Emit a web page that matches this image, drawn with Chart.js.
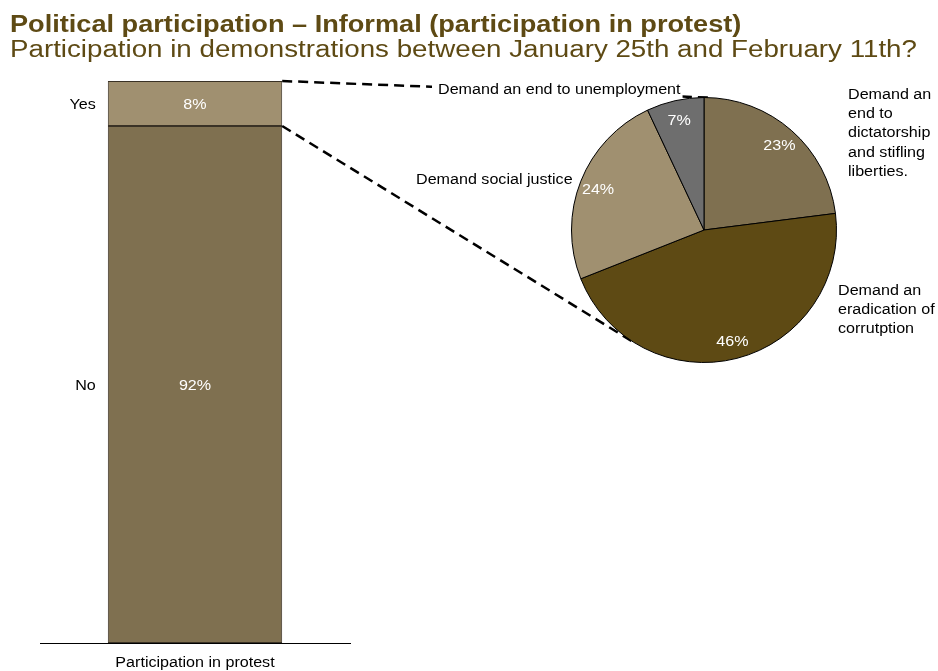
<!DOCTYPE html>
<html>
<head>
<meta charset="utf-8">
<script src="https://cdn.jsdelivr.net/npm/chart.js@4/dist/chart.umd.min.js"></script>
<style>
    body { margin: 0; background: #fff; font-family: "Liberation Sans", Arial, sans-serif; }
    #wrap { position: relative; width: 938px; height: 671px; overflow: hidden; }
    #wrap canvas { position: absolute; left: 0; top: 0; }
    .title { position: absolute; left: 10px; color: #5e4a14; white-space: nowrap; font-size: 23px; transform-origin: 0 0; }
    #title { top: 11px; font-weight: bold; transform: scaleX(1.18); }
    #subtitle { top: 36px; transform: scaleX(1.205); }
</style>
</head>
<body>
<div id="wrap">
    <canvas id="barChart" width="938" height="671"></canvas>
    <canvas id="pieChart" width="938" height="671"></canvas>
    <div class="title" id="title">Political participation – Informal (participation in protest)</div>
    <div class="title" id="subtitle">Participation in demonstrations between January 25th and February 11th?</div>
</div>
<script>
const barCategories = ["Participation in protest"];
const answerLabels = ["No", "Yes"];
const answerValues = [92, 8];

const reasonLabels = [
    "Demand an end to dictatorship and stifling liberties.",
    "Demand an eradication of corrutption",
    "Demand social justice",
    "Demand an end to unemployment"
];
const reasonValues = [23, 46, 24, 7];

const answerColors = ["#7f7050", "#a09070"];
const reasonColors = ["#7f7050", "#5e4a14", "#a09070", "#6e6e6e"];
const FONT = '"Liberation Sans", Arial, sans-serif';
const STRETCH = 1.15;

// wrapped lines and placement of the outside pie labels, relative to the pie centre
const reasonLabelLayout = [
    { lines: ["Demand an", "end to", "dictatorship", "and stifling", "liberties."], dx: 144, dy: -137 },
    { lines: ["Demand an", "eradication of", "corrutption"], dx: 134, dy: 59 },
    { lines: ["Demand social justice"], dx: -288, dy: -52 },
    { lines: ["Demand an end to unemployment"], dx: -266, dy: -142, knockout: true }
];

// text drawn slightly wide, like the rest of the slide
function wideText(ctx, text, x, y, align, color) {
    ctx.save();
    ctx.translate(x, y + 2);
    ctx.scale(STRETCH, 1);
    ctx.textAlign = align;
    ctx.fillStyle = color;
    ctx.fillText(text, 0, 0);
    ctx.restore();
}

// percentage text inside each stacked segment, Yes / No on the left, category underneath
const barLabels = {
    id: "barLabels",
    afterDatasetsDraw(chart) {
        const ctx = chart.ctx;
        ctx.save();
        ctx.font = "14px " + FONT;
        ctx.textBaseline = "middle";
        chart.data.datasets.forEach((ds, i) => {
            const bar = chart.getDatasetMeta(i).data[0];
            const midY = (bar.y + bar.base) / 2;
            wideText(ctx, ds.data[0] + "%", bar.x, midY, "center", "#ffffff");
            wideText(ctx, ds.label, bar.x - bar.width / 2 - 12, midY, "right", "#000");
        });
        const xs = chart.scales.x;
        chart.data.labels.forEach((label, i) => {
            wideText(ctx, label, xs.getPixelForTick(i), chart.chartArea.bottom + 18, "center", "#000");
        });
        ctx.restore();
    }
};

const barChart = new Chart(document.getElementById("barChart"), {
    type: "bar",
    data: {
        labels: barCategories,
        datasets: answerLabels.map((label, i) => ({
            label: label,
            data: [answerValues[i]],
            backgroundColor: answerColors[i],
            borderColor: "#3a3226",
            borderWidth: 1,
            borderSkipped: false,
            categoryPercentage: 0.75,
            barPercentage: 0.75
        }))
    },
    options: {
        responsive: false,
        animation: false,
        layout: { padding: { left: 40, right: 588, top: 81, bottom: 28 } },
        plugins: { legend: { display: false }, tooltip: { enabled: false } },
        scales: {
            x: {
                stacked: true,
                grid: { display: false, drawTicks: false },
                border: { display: true, color: "#000", width: 1 },
                ticks: { display: false }
            },
            y: { stacked: true, display: false, min: 0, max: 100 }
        }
    },
    plugins: [barLabels]
});

function tangentPoint(px, py, cx, cy, r, side) {
    const d = Math.hypot(px - cx, py - cy);
    const t = Math.atan2(py - cy, px - cx) + side * Math.acos(r / d);
    return { x: cx + r * Math.cos(t), y: cy + r * Math.sin(t) };
}

// dashed connectors from the Yes segment to the pie, drawn underneath the slices
const connectors = {
    id: "connectors",
    beforeDatasetsDraw(chart) {
        const arc = chart.getDatasetMeta(0).data[0];
        const yes = barChart.getDatasetMeta(1).data[0];
        const right = yes.x + yes.width / 2;
        const ends = [
            { x: right, y: yes.y, side: 1 },
            { x: right, y: yes.base, side: -1 }
        ];
        const ctx = chart.ctx;
        ctx.save();
        ctx.strokeStyle = "#000";
        ctx.lineWidth = 2.5;
        ctx.setLineDash([10, 6]);
        ends.forEach(e => {
            const t = tangentPoint(e.x, e.y, arc.x, arc.y, arc.outerRadius, e.side);
            ctx.beginPath();
            ctx.moveTo(e.x, e.y);
            ctx.lineTo(t.x, t.y);
            ctx.stroke();
        });
        ctx.restore();
    },
    afterDatasetsDraw(chart) {
        const meta = chart.getDatasetMeta(0);
        const ctx = chart.ctx;
        ctx.save();
        ctx.font = "14px " + FONT;
        ctx.textBaseline = "middle";
        meta.data.forEach((arc, i) => {
            const mid = (arc.startAngle + arc.endAngle) / 2;
            const r = arc.outerRadius * 0.86;
            wideText(ctx, chart.data.datasets[0].data[i] + "%",
                arc.x + Math.cos(mid) * r, arc.y + Math.sin(mid) * r, "center", "#ffffff");

            const lay = reasonLabelLayout[i];
            lay.lines.forEach((line, j) => {
                const x = arc.x + lay.dx;
                const y = arc.y + lay.dy + j * 19.3;
                if (lay.knockout) {
                    const w = ctx.measureText(line).width * STRETCH;
                    ctx.fillStyle = "#fff";
                    ctx.fillRect(x - 6, y - 9, w + 8, 20);
                }
                wideText(ctx, line, x, y, "left", "#000");
            });
        });
        ctx.restore();
    }
};

new Chart(document.getElementById("pieChart"), {
    type: "pie",
    data: {
        labels: reasonLabels,
        datasets: [{
            data: reasonValues,
            backgroundColor: reasonColors,
            borderColor: "#000",
            borderWidth: 1
        }]
    },
    options: {
        responsive: false,
        animation: false,
        layout: { padding: { left: 571, right: 101, top: 97, bottom: 308 } },
        plugins: { legend: { display: false }, tooltip: { enabled: false } }
    },
    plugins: [connectors]
});
</script>
</body>
</html>
